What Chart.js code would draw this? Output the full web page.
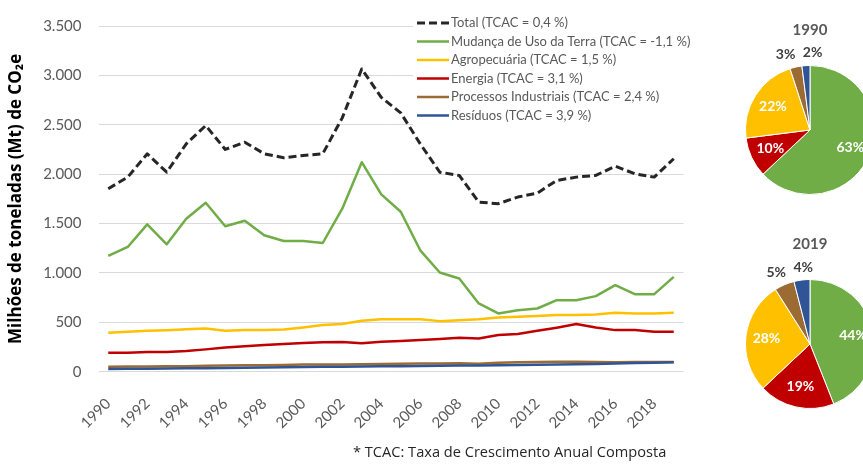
<!DOCTYPE html>
<html><head><meta charset="utf-8">
<script src="https://cdn.jsdelivr.net/npm/chart.js@4"></script>
<style>
html,body{margin:0;padding:0;overflow:hidden;background:#fff;width:863px;height:468px;}
#main{position:absolute;left:0;top:0;}
.pie{position:absolute;}
#note{position:absolute;left:353px;top:441px;font:14.6px 'Open Sans';color:#262626;white-space:nowrap;}
</style></head><body>
<canvas id="main" width="863" height="468"></canvas>
<canvas id="pie1" class="pie" width="160" height="200" style="left:730px;top:10px;"></canvas>
<canvas id="pie2" class="pie" width="160" height="200" style="left:730px;top:224px;"></canvas>
<div id="note">* TCAC: Taxa de Crescimento Anual Composta</div>
<script>
const years = ['1990','1991','1992','1993','1994','1995','1996','1997','1998','1999','2000','2001','2002','2003','2004','2005','2006','2007','2008','2009','2010','2011','2012','2013','2014','2015','2016','2017','2018','2019'];
const seriesNames = ['Total (TCAC = 0,4 %)','Mudança de Uso da Terra (TCAC = -1,1 %)','Agropecuária (TCAC = 1,5 %)','Energia (TCAC = 3,1 %)','Processos Industriais (TCAC = 2,4 %)','Resíduos (TCAC = 3,9 %)'];
const total = [1853,1970,2206,2020,2307,2492,2250,2323,2206,2166,2189,2206,2570,3065,2778,2620,2307,2020,1987,1717,1701,1768,1808,1936,1970,1987,2081,2004,1970,2156];
const usoTerra = [1172,1263,1492,1290,1549,1711,1472,1528,1381,1323,1323,1303,1650,2121,1795,1620,1229,1004,943,691,590,623,640,724,724,765,876,785,785,960];
const agropecuaria = [394,404,414,420,430,438,414,421,421,428,448,472,482,515,532,532,532,512,522,532,549,556,563,573,573,580,596,590,590,596];
const energia = [192,192,199,199,209,226,246,257,270,280,290,297,300,287,303,312,320,330,343,337,371,381,414,446,482,448,421,421,404,404];
const processos = [50,52,52,54,56,60,63,65,66,68,72,72,74,75,78,80,82,84,85,80,90,95,98,100,100,98,95,97,98,99];
const residuos = [28,29,31,33,35,36,38,40,42,44,47,49,51,52,54,56,58,60,62,64,66,68,70,73,76,79,82,87,91,95];
const yTicks = [0,500,1000,1500,2000,2500,3000,3500];

const pieLabels = ['Mudança de Uso da Terra','Energia','Agropecuária','Processos Industriais','Resíduos'];
const pie1990 = [63,10,22,3,2];
const pie2019 = [44,19,28,5,4];
const pieTitles = ['1990','2019'];

const C = {total:'#262626', green:'#70AD47', yellow:'#FFC000', red:'#C00000', brown:'#9C6A33', blue:'#2F5597'};

function fmt(v){ return String(v).replace(/\B(?=(\d{3})+(?!\d))/g,'.'); }

const legendPlugin = {
  id:'customLegend',
  beforeDatasetsDraw(chart){
    const ctx = chart.ctx; ctx.save();
    ctx.fillStyle = '#fff'; ctx.fillRect(413, 12, 280, 115);
    chart.data.datasets.forEach((ds,i)=>{
      const y = 23 + i*18.5;
      ctx.beginPath(); ctx.setLineDash(ds.borderDash||[]);
      ctx.strokeStyle = ds.borderColor; ctx.lineWidth = ds.borderWidth;
      ctx.moveTo(417,y); ctx.lineTo(449,y); ctx.stroke();
      ctx.setLineDash([]);
      ctx.fillStyle = '#595959'; ctx.font = '13px Lato'; ctx.textBaseline = 'middle';
      ctx.fillText(ds.label, 451, y);
    });
    ctx.restore();
  }
};

new Chart(document.getElementById('main'), {
  type:'line',
  data:{labels:years, datasets:[
    {label:seriesNames[0], data:total, borderColor:C.total, borderWidth:3, borderDash:[8,4], order:0},
    {label:seriesNames[1], data:usoTerra, borderColor:C.green, borderWidth:2.5, order:5},
    {label:seriesNames[2], data:agropecuaria, borderColor:C.yellow, borderWidth:2.5, order:4},
    {label:seriesNames[3], data:energia, borderColor:C.red, borderWidth:2.5, order:3},
    {label:seriesNames[4], data:processos, borderColor:C.brown, borderWidth:2.5, order:2},
    {label:seriesNames[5], data:residuos, borderColor:C.blue, borderWidth:2.5, order:1}
  ]},
  options:{
    responsive:false, animation:false,
    layout:{padding:{left:0, top:25, right:179.5, bottom:36.3}},
    elements:{point:{radius:0}, line:{tension:0, borderCapStyle:'butt', borderJoinStyle:'round', fill:false}},
    plugins:{legend:{display:false}, tooltip:{enabled:false}},
    scales:{
      x:{offset:true, grid:{display:false}, border:{display:false},
         ticks:{autoSkip:false, minRotation:45, maxRotation:45, color:'#595959', font:{family:'Lato', size:15}, padding:15,
           callback:function(v,i){ return i%2===0 ? this.getLabelForValue(v) : ''; }},
         afterFit(s){ s.height = 60; }},
      y:{min:yTicks[0], max:yTicks[yTicks.length-1],
         afterBuildTicks(s){ s.ticks = yTicks.map(v=>({value:v})); },
         ticks:{color:'#595959', font:{family:'Lato', size:15}, padding:17, callback:v=>fmt(v)},
         grid:{color:'#D9D9D9', drawTicks:false}, border:{display:false},
         title:{display:true, text:'Milhões de toneladas (Mt) de CO₂e', color:'#000', font:{family:'Open Sans', size:17, weight:'bold'}, padding:{top:6, bottom:0}},
         afterFit(s){ s.width = 98.5; }}
    }
  },
  plugins:[legendPlugin]
});

const pieLabelPlugin = {
  id:'pieLabels',
  afterDatasetsDraw(chart){
    const meta = chart.getDatasetMeta(0); const vals = chart.data.datasets[0].data;
    const pts = [];
    meta.data.forEach((arc,i)=>{
      const mid = (arc.startAngle + arc.endAngle)/2; const inside = vals[i] >= 8;
      const r = arc.outerRadius * (inside ? 0.68 : 1.2);
      pts.push({x:arc.x + Math.cos(mid)*r, y:arc.y + Math.sin(mid)*r, inside, text:vals[i]+'%'});
    });
    const out = pts.filter(p=>!p.inside).sort((a,b)=>a.x-b.x);
    for (let k=1;k<out.length;k++){ const gap=27; const d=out[k].x-out[k-1].x; if(d<gap){ const s=(gap-d)/2; out[k-1].x-=s; out[k].x+=s; } }
    const ctx = chart.ctx; ctx.save();
    ctx.font = 'bold 14px Lato'; ctx.textAlign='center'; ctx.textBaseline='middle';
    pts.forEach(p=>{ ctx.fillStyle = p.inside ? '#fff' : '#404040'; ctx.fillText(p.text, p.x, p.y); });
    ctx.restore();
  }
};

function makePie(id, title, values){
  new Chart(document.getElementById(id), {
    type:'pie',
    data:{labels:pieLabels, datasets:[{data:values, backgroundColor:[C.green,C.red,C.yellow,C.brown,C.blue], borderColor:'#fff', borderWidth:1}]},
    options:{responsive:false, animation:false,
      layout:{padding:{left:0,right:0,top:0,bottom:15}},
      plugins:{legend:{display:false}, tooltip:{enabled:false},
        title:{display:true, text:title, color:'#595959', font:{family:'Lato', size:15, weight:'bold'}, padding:{top:11, bottom:26}}}},
    plugins:[pieLabelPlugin]
  });
}
makePie('pie1', pieTitles[0], pie1990);
makePie('pie2', pieTitles[1], pie2019);
</script>
</body></html>
